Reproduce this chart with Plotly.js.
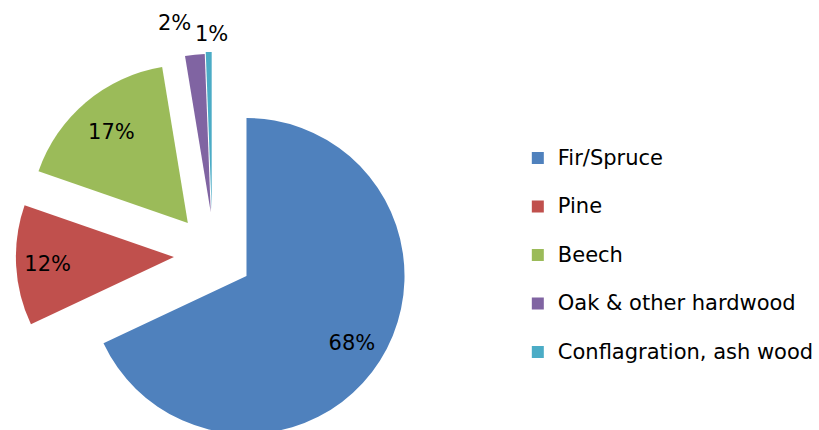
<!DOCTYPE html>
<html>
<head>
<meta charset="utf-8">
<script src="https://cdn.plot.ly/plotly-3.0.1.min.js"></script>
<style>
  html, body { margin: 0; padding: 0; overflow: hidden; background: #fff; }
  #chart { width: 819px; height: 480px; }
</style>
</head>
<body>
<div id="chart"></div>
<script>
// Wood types and their share (%)
const woodTypes = ['Fir/Spruce', 'Pine', 'Beech', 'Oak & other hardwood', 'Conflagration, ash wood'];
const shares = [68, 12.3, 17.1, 2.0, 0.6];
const sliceColors = ['#4F81BD', '#C0504D', '#9BBB59', '#8064A2', '#4BACC6'];

// Layout: the pie is bigger than the window, the bottom gets cut off
const W = 819, H = 480, R = 159;
const FONT = 'DejaVu Sans';
// apex of every exploded slice (px); Fir/Spruce stays at the centre
const apex = [[248, 276], [175, 257], [189, 223], [212, 212], [213, 210]];
// inside labels are drawn on a transparent ring so they sit further out
const labelHole = [0.58, 0.6, 0.5, null, null];
// the two thin slices get their label above them (px, label centre)
const smallLabelAt = [null, null, null, [175.5, 23.5], [213, 33.5]];
const HIDDEN = 'rgba(0,0,0,0)';
const PCT = '%{percent:.0%}';

const total = shares.reduce((a, b) => a + b, 0);
const traces = [];

function sliceTrace(k, showColor, showText) {
    const [cx, cy] = apex[k];
    return {
        type: 'pie',
        labels: woodTypes,
        values: shares,
        sort: false,
        direction: 'clockwise',
        rotation: 0,
        marker: {
            colors: sliceColors.map((c, i) => (showColor && i === k ? c : HIDDEN)),
            line: { width: 0 }
        },
        texttemplate: shares.map((v, i) => (showText && i === k ? PCT : '')),
        textposition: shares.map((v, i) => (showText && i === k ? 'inside' : 'none')),
        insidetextorientation: 'horizontal',
        insidetextfont: { family: FONT, size: 21, color: '#000' },
        hoverinfo: 'skip',
        showlegend: false,
        domain: {
            x: [(cx - R) / W, (cx + R) / W],
            y: [1 - (cy + R) / H, 1 - (cy - R) / H]
        }
    };
}

// one trace per slice, the other slices are transparent
woodTypes.forEach((name, k) => {
    traces.push(sliceTrace(k, true, false));
});
// label rings
woodTypes.forEach((name, k) => {
    if (labelHole[k] === null) return;
    const t = sliceTrace(k, false, true);
    t.hole = labelHole[k];
    traces.push(t);
});

// legend only: a tiny pie below the visible area
traces.push({
    type: 'pie',
    labels: woodTypes.map(n => '\u00a0<br><span style="font-size:21px">' + n + '</span>'),
    values: shares,
    sort: false,
    direction: 'clockwise',
    marker: { colors: sliceColors, line: { width: 0 } },
    textinfo: 'none',
    hoverinfo: 'skip',
    showlegend: true,
    domain: { x: [0, 0.001], y: [0, 0.001] }
});

// labels of the two thin slices
const annotations = [];
smallLabelAt.forEach((p, k) => {
    if (!p) return;
    annotations.push({
        xref: 'paper', yref: 'paper',
        x: p[0] / W, y: 1 - p[1] / H,
        xanchor: 'center', yanchor: 'middle',
        text: Math.round(shares[k] / total * 100) + '%',
        showarrow: false,
        font: { family: FONT, size: 21, color: '#000' }
    });
});

const layout = {
    width: W,
    height: H,
    margin: { l: 0, r: 0, t: 0, b: 0 },
    paper_bgcolor: '#fff',
    font: { family: FONT, color: '#000' },
    showlegend: true,
    annotations: annotations,
    legend: {
        x: 521 / W,
        xanchor: 'left',
        y: 1 - 117.4 / H,
        yanchor: 'top',
        valign: 'bottom',
        font: { family: FONT, size: 17.5, color: '#000' },
        bgcolor: 'rgba(0,0,0,0)'
    }
};

Plotly.newPlot('chart', traces, layout, { staticPlot: true, displayModeBar: false });
</script>
</body>
</html>
